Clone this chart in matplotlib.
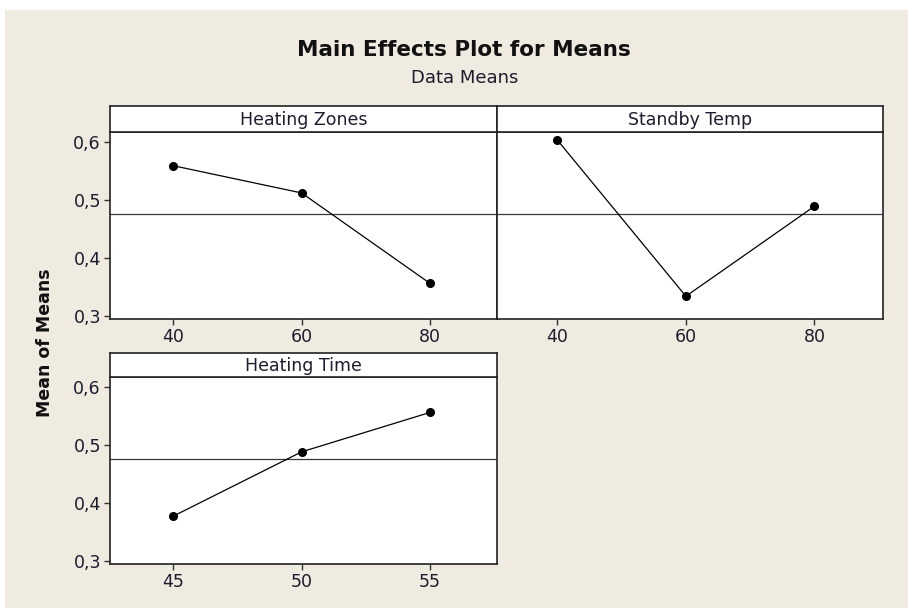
import matplotlib
matplotlib.use("Agg")
import matplotlib.pyplot as plt
from matplotlib.patches import Rectangle
from matplotlib.ticker import FuncFormatter

W, H = 908, 608
DPI = 100

# ---- data ----
factors = ["Heating Zones", "Standby Temp", "Heating Time"]
zones_levels = [40, 60, 80]
zones_means = [0.559, 0.512, 0.356]
standby_levels = [40, 60, 80]
standby_means = [0.603, 0.334, 0.489]
time_levels = [45, 50, 55]
time_means = [0.377, 0.488, 0.556]
grand_mean = 0.475
y_ticks = [0.3, 0.4, 0.5, 0.6]

BG = "#efebe0"
TXT = "#1c1c2e"

plt.rcParams["font.family"] = ["DejaVu Sans"]

fig = plt.figure(figsize=(W / DPI, H / DPI), dpi=DPI)
fig.patch.set_facecolor("white")
bg = Rectangle((5 / W, 0), 1 - 5 / W, 1 - 10 / H, transform=fig.transFigure,
               facecolor=BG, edgecolor="none", zorder=-10)
fig.add_artist(bg)


def box(l, r, t, b):
    return [l / W, 1 - b / H, (r - l) / W, (b - t) / H]


comma = FuncFormatter(lambda v, p: ("%.1f" % v).replace(".", ","))


def panel(rect_data, rect_head, levels, means, xlim, title, show_y=True):
    ax = fig.add_axes(box(*rect_data))
    ax.set_facecolor("white")
    ax.plot(levels, means, color="black", lw=0.9, marker="o", ms=5.5, zorder=3)
    ax.axhline(grand_mean, color="#3a3a3a", lw=0.9, zorder=2)
    ax.set_xlim(*xlim)
    ax.set_ylim(0.2948, 0.617)
    ax.set_xticks(levels)
    ax.set_yticks(y_ticks)
    ax.yaxis.set_major_formatter(comma)
    ax.tick_params(direction="out", length=4, width=1, colors="#333333",
                   labelsize=12.5, labelcolor=TXT, pad=2.5)
    if not show_y:
        ax.tick_params(axis="y", left=False, labelleft=False)
    for s in ax.spines.values():
        s.set_linewidth(1.2)
        s.set_color("#222222")
    hx = fig.add_axes(box(*rect_head))
    hx.set_facecolor("white")
    hx.set_xticks([])
    hx.set_yticks([])
    for s in hx.spines.values():
        s.set_linewidth(1.2)
        s.set_color("#222222")
    hx.text(0.5, 0.45, title, ha="center", va="center", fontsize=12.5, color=TXT,
            transform=hx.transAxes)
    return ax


panel((110, 497, 132, 319), (110, 497, 106, 132), zones_levels, zones_means,
      (30.2, 90.4), factors[0])
panel((497, 882.5, 132, 319), (497, 882.5, 106, 132), standby_levels, standby_means,
      (30.6, 90.6), factors[1], show_y=False)
panel((110, 497, 377, 564), (110, 497, 353, 377), time_levels, time_means,
      (42.55, 57.6), factors[2])

fig.text(464 / W, 1 - 50 / H, "Main Effects Plot for Means", ha="center", va="center",
         fontsize=15.5, fontweight="bold", color="#111111")
fig.text(465 / W, 1 - 78 / H, "Data Means", ha="center", va="center",
         fontsize=13, color=TXT)
fig.text(45 / W, 1 - 343 / H, "Mean of Means", ha="center", va="center",
         rotation=90, fontsize=12.5, fontweight="bold", color="#111111")

fig.savefig("out.png", dpi=DPI, facecolor=fig.get_facecolor())
